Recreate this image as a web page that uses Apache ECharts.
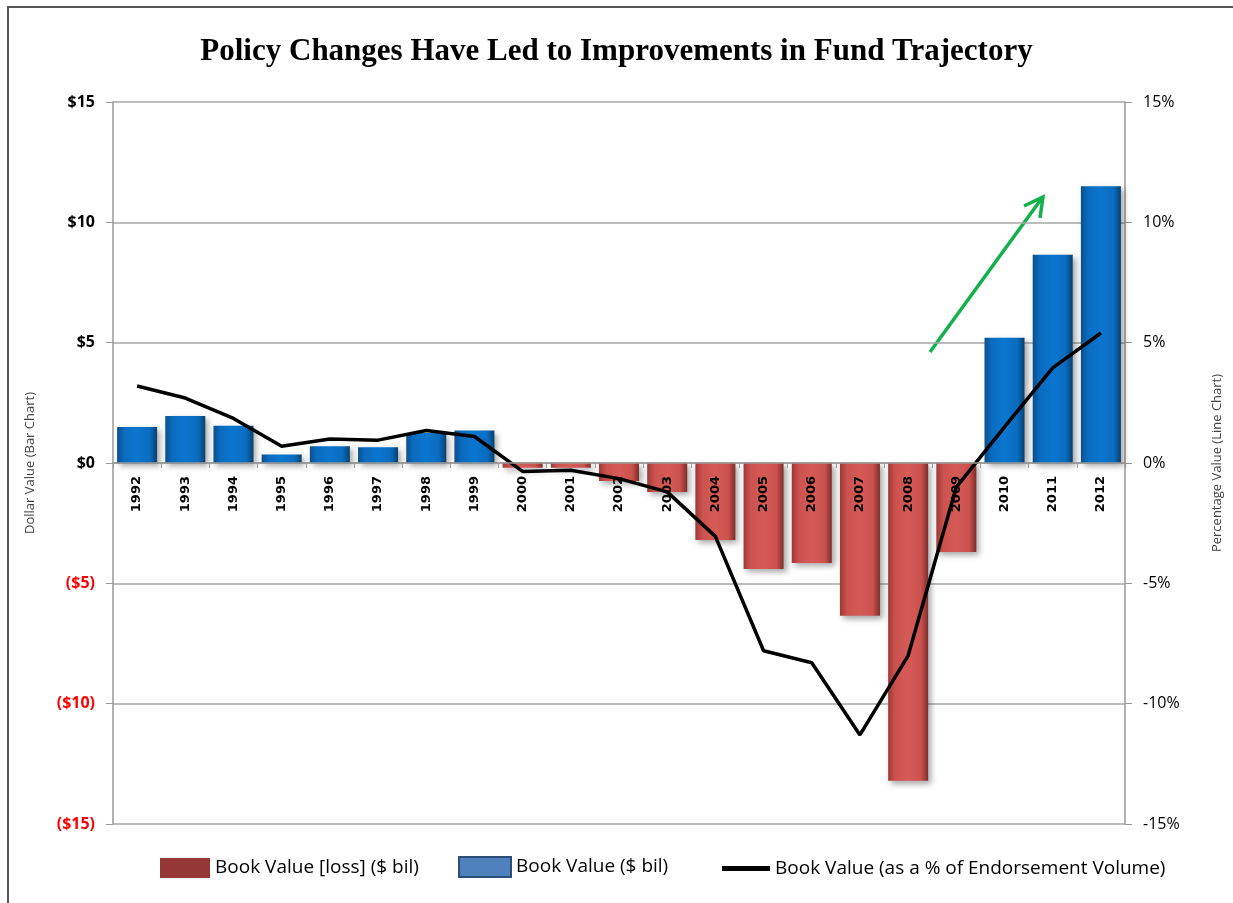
<!DOCTYPE html>
<html>
<head>
<meta charset="utf-8">
<script src="https://cdn.jsdelivr.net/npm/echarts@6/dist/echarts.min.js"></script>
<style>
  html, body { margin: 0; padding: 0; background: #fff; }
  #chart { width: 1233px; height: 903px; }
</style>
</head>
<body>
<div id="chart"></div>
<script>
// years on the x axis
let years = ['1992', '1993', '1994', '1995', '1996', '1997', '1998', '1999', '2000', '2001',
    '2002', '2003', '2004', '2005', '2006', '2007', '2008', '2009', '2010', '2011', '2012']

// book value in $ bil (positive years)
let gainValues = [1.5, 1.95, 1.55, 0.35, 0.7, 0.65, 1.25, 1.35, null, null,
    null, null, null, null, null, null, null, null, 5.2, 8.65, 11.5]

// book value in $ bil (loss years)
let lossValues = [null, null, null, null, null, null, null, null, -0.2, -0.2,
    -0.75, -1.2, -3.2, -4.4, -4.15, -6.35, -13.2, -3.7, null, null, null]

// book value as % of endorsement volume
let pctValues = [3.2, 2.7, 1.85, 0.7, 1.0, 0.95, 1.35, 1.1, -0.35, -0.3,
    -0.65, -1.2, -3.05, -7.8, -8.3, -11.3, -8.0, -1.0, 1.5, 3.95, 5.4]

let lossName = 'Book Value [loss] ($ bil)'
let gainName = 'Book Value ($ bil)'
let pctName = 'Book Value (as a % of Endorsement Volume)'

function dollarLabel(v) {
    if (v < 0) return '($' + (-v) + ')'
    return '$' + v
}

let chart = echarts.init(document.getElementById('chart'))

let gridTop = 102
let gridBottom = 79
let plotHeight = 903 - gridTop - gridBottom
// the year labels hang off the zero line, which sits half way down (-15..15)
let zeroOffset = -plotHeight / 2

let blueFill = new echarts.graphic.LinearGradient(0, 0, 1, 0, [
    { offset: 0, color: '#0b4f8c' },
    { offset: 0.18, color: '#0a6cc0' },
    { offset: 0.5, color: '#0a76cf' },
    { offset: 0.82, color: '#0a6cc0' },
    { offset: 1, color: '#08406f' }
])
let redFill = new echarts.graphic.LinearGradient(0, 0, 1, 0, [
    { offset: 0, color: '#9c3a36' },
    { offset: 0.18, color: '#cc524e' },
    { offset: 0.5, color: '#d65b56' },
    { offset: 0.82, color: '#cc524e' },
    { offset: 1, color: '#7f2d2a' }
])

let legendText = { fontFamily: 'Open Sans', fontSize: 19, color: '#000' }

let option = {
    animation: false,
    backgroundColor: '#fff',
    title: {
        text: 'Policy Changes Have Led to Improvements in Fund Trajectory',
        left: 'center',
        top: 31,
        textStyle: {
            fontFamily: 'Liberation Serif',
            fontWeight: 'bold',
            fontSize: 31,
            color: '#000'
        }
    },
    grid: { left: 113, right: 108, top: gridTop, bottom: gridBottom, outerBoundsMode: 'none', containLabel: false },
    legend: [
        {
            left: 155, bottom: 20, itemWidth: 50, itemHeight: 20, itemGap: 10,
            textStyle: legendText,
            data: [{ name: lossName, icon: 'rect', itemStyle: { color: '#953735' } }]
        },
        {
            left: 453, bottom: 20, itemWidth: 52, itemHeight: 20, itemGap: 10,
            textStyle: legendText,
            data: [{ name: gainName, icon: 'rect', itemStyle: { color: '#4f81bd', borderColor: '#2c4d75', borderWidth: 2 } }]
        },
        {
            left: 717, bottom: 20, itemWidth: 48, itemHeight: 20, itemGap: 10,
            textStyle: legendText,
            data: [{ name: pctName, icon: 'path://M0,0 H48 V5 H0 Z', itemStyle: { color: '#000' } }]
        }
    ],
    xAxis: [
        {
            type: 'category',
            data: years,
            axisLine: { onZero: true, lineStyle: { color: '#999', width: 1.5 } },
            axisTick: { show: true, length: 5, lineStyle: { color: '#999' } },
            axisLabel: { show: false },
            z: 10
        },
        {
            // label-only axis lifted up to the zero line
            type: 'category',
            data: years,
            position: 'bottom',
            offset: zeroOffset,
            axisLine: { show: false },
            axisTick: { show: false },
            axisLabel: {
                rotate: 90,
                margin: 13,
                fontFamily: 'DejaVu Sans',
                fontWeight: 'bold',
                fontSize: 13,
                color: '#000'
            },
            z: 10
        }
    ],
    yAxis: [
        {
            type: 'value',
            min: -15,
            max: 15,
            interval: 5,
            name: 'Dollar Value (Bar Chart)',
            nameLocation: 'middle',
            nameGap: 76,
            nameRotate: 90,
            nameTextStyle: { fontFamily: 'Open Sans', fontSize: 13, color: '#444' },
            axisLine: { show: true, lineStyle: { color: '#999', width: 1.5 } },
            axisTick: { show: true, length: 7, lineStyle: { color: '#999' } },
            splitLine: { lineStyle: { color: '#a6a6a6', width: 1.5 } },
            axisLabel: {
                margin: 18,
                fontFamily: 'Open Sans',
                fontWeight: 'bold',
                fontSize: 16,
                formatter: dollarLabel,
                color: function (v) {
                    return Number(v) < 0 ? '#ff0000' : '#000'
                }
            }
        },
        {
            type: 'value',
            min: -15,
            max: 15,
            interval: 5,
            name: 'Percentage Value (Line Chart)',
            nameLocation: 'middle',
            nameGap: 86,
            nameRotate: 90,
            nameTextStyle: { fontFamily: 'Open Sans', fontSize: 13, color: '#444' },
            axisLine: { show: true, lineStyle: { color: '#999', width: 1.5 } },
            axisTick: { show: true, length: 7, lineStyle: { color: '#999' } },
            splitLine: { show: false },
            axisLabel: {
                margin: 18,
                fontFamily: 'Open Sans',
                fontSize: 16,
                color: '#000',
                formatter: '{value}%'
            }
        }
    ],
    series: [
        {
            name: lossName,
            type: 'bar',
            data: lossValues,
            barWidth: '83%',
            barGap: '-100%',
            itemStyle: {
                color: redFill,
                shadowColor: 'rgba(0,0,0,0.35)',
                shadowBlur: 6,
                shadowOffsetX: 3,
                shadowOffsetY: 3
            }
        },
        {
            name: gainName,
            type: 'bar',
            data: gainValues,
            barWidth: '83%',
            itemStyle: {
                color: blueFill,
                shadowColor: 'rgba(0,0,0,0.35)',
                shadowBlur: 6,
                shadowOffsetX: 3,
                shadowOffsetY: 3
            }
        },
        {
            name: pctName,
            type: 'line',
            yAxisIndex: 1,
            data: pctValues,
            showSymbol: false,
            symbol: 'none',
            itemStyle: { color: '#000' },
            lineStyle: { color: '#000', width: 3.5 },
            z: 5
        }
    ],
    graphic: [
        {
            type: 'rect',
            shape: { x: 8, y: 7, width: 1240, height: 910 },
            style: { fill: 'none', stroke: '#555', lineWidth: 2 },
            silent: true
        },
        {
            // green trend arrow
            type: 'group',
            silent: true,
            z: 20,
            children: [
                {
                    type: 'polyline',
                    shape: { points: [[930, 352], [1042, 198]] },
                    style: { stroke: '#13b04b', lineWidth: 3.5, fill: 'none' }
                },
                {
                    type: 'polyline',
                    shape: { points: [[1024, 206], [1043, 197], [1040, 218]] },
                    style: { stroke: '#13b04b', lineWidth: 3.5, fill: 'none' }
                }
            ]
        }
    ]
}

chart.setOption(option)
</script>
</body>
</html>
